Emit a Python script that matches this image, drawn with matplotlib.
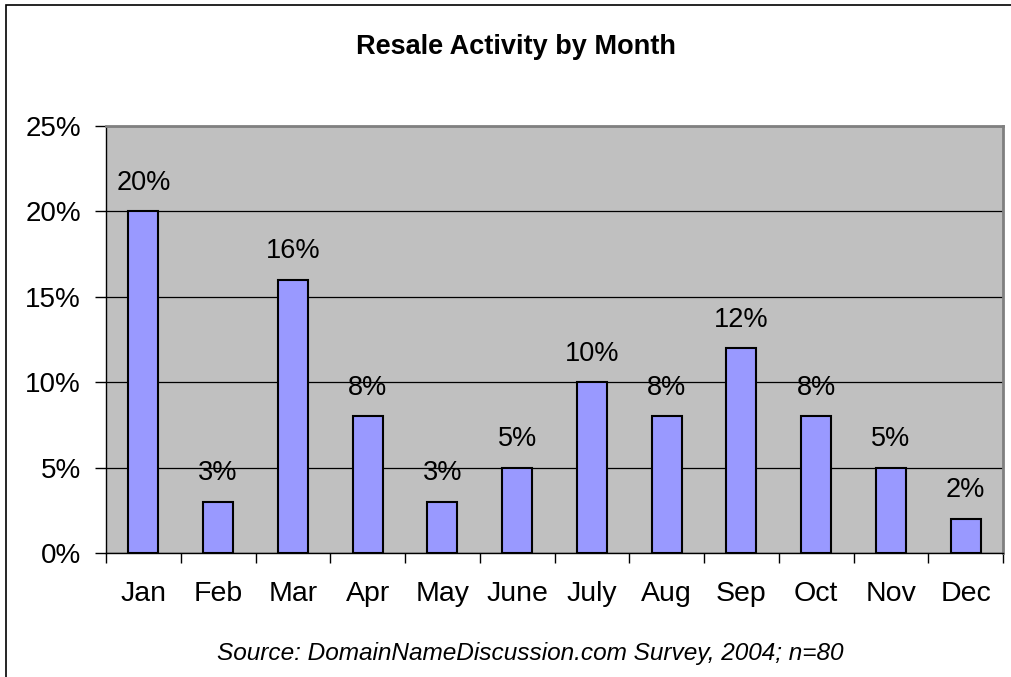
import numpy as np
import matplotlib
matplotlib.use('Agg')
from matplotlib import pyplot as plt
from matplotlib.patches import Rectangle

months = ['Jan', 'Feb', 'Mar', 'Apr', 'May', 'June', 'July', 'Aug', 'Sep', 'Oct', 'Nov', 'Dec']
share = [20, 3, 16, 8, 3, 5, 10, 8, 12, 8, 5, 2]
yticks = [0, 5, 10, 15, 20, 25]

plt.rcParams['font.family'] = ['Liberation Sans', 'DejaVu Sans']

fig = plt.figure(figsize=(10.11, 6.77), dpi=100)
# outer chart border
fig.patches.append(Rectangle((6 / 1011, -0.01), 1.02, 1 - 5 / 677 + 0.01,
                             transform=fig.transFigure, fill=False,
                             edgecolor='black', linewidth=1.2))

ax = fig.add_axes([106 / 1011, 1 - 553 / 677, 897 / 1011, 427 / 677])
ax.set_facecolor('#c0c0c0')

x = np.arange(len(months))
ax.bar(x, share, width=0.4, color='#9999ff', edgecolor='black', linewidth=1.5, zorder=3)
for xi, v in zip(x, share):
    ax.text(xi, v + 0.9, f'{v}%', ha='center', va='bottom', fontsize=19.5)

ax.set_xlim(-0.5, len(months) - 0.5)
ax.set_ylim(0, 25)
ax.set_yticks(yticks)
ax.set_yticklabels([f'{t}%' for t in yticks], fontsize=20)
ax.yaxis.grid(True, color='black', linewidth=0.9, zorder=1)
ax.set_axisbelow(True)

ax.set_xticks(np.arange(len(months) + 1) - 0.5)
ax.set_xticklabels([])
ax.set_xticks(x, minor=True)
ax.set_xticklabels(months, minor=True, fontsize=20.5)
ax.tick_params(axis='x', which='major', length=7, width=1, direction='out')
ax.tick_params(axis='x', which='minor', length=0, pad=20)
ax.tick_params(axis='y', length=8, width=1, direction='out', pad=10)

ax.spines['top'].set_color('#808080')
ax.spines['right'].set_color('#808080')
ax.spines['top'].set_linewidth(2)
ax.spines['right'].set_linewidth(2)
ax.spines['left'].set_linewidth(1)
ax.spines['bottom'].set_linewidth(1)

fig.text(0.510, 0.930, 'Resale Activity by Month', ha='center', va='center',
         fontsize=19.5, fontweight='bold')
fig.text(0.524, 0.035, 'Source: DomainNameDiscussion.com Survey, 2004; n=80',
         ha='center', va='center', fontsize=17.6, style='italic')

plt.savefig('out.png', dpi=100)
